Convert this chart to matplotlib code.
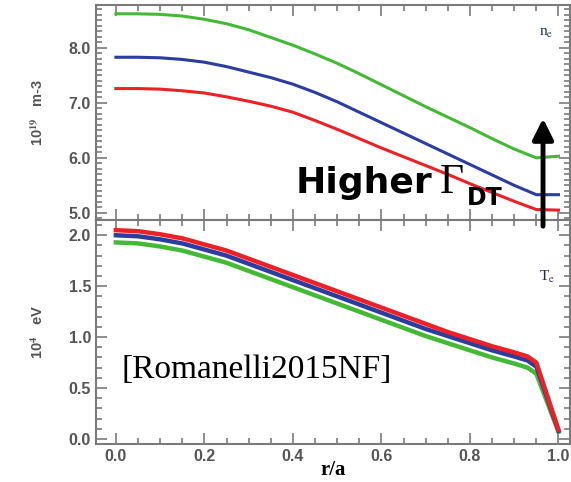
import matplotlib.pyplot as plt
import numpy as np
from matplotlib.ticker import MultipleLocator, FormatStrFormatter
from matplotlib.patches import FancyArrowPatch

plt.rcParams['mathtext.fontset'] = 'stix'

# radial grid for the density profiles
r_ne = [0.0, 0.05, 0.1, 0.15, 0.2, 0.25, 0.3, 0.35, 0.4, 0.45, 0.5,
        0.55, 0.6, 0.65, 0.7, 0.75, 0.8, 0.85, 0.9, 0.95, 1.0]
ne_green = [8.62, 8.62, 8.61, 8.58, 8.52, 8.44, 8.33, 8.19, 8.05, 7.89, 7.72,
            7.53, 7.33, 7.13, 6.93, 6.74, 6.55, 6.35, 6.16, 6.00, 6.03]
ne_blue = [7.83, 7.83, 7.82, 7.79, 7.74, 7.66, 7.56, 7.46, 7.34, 7.19, 7.02,
           6.83, 6.64, 6.45, 6.26, 6.07, 5.88, 5.69, 5.50, 5.33, 5.33]
ne_red = [7.26, 7.26, 7.25, 7.22, 7.18, 7.11, 7.03, 6.94, 6.83, 6.68, 6.52,
          6.35, 6.18, 6.02, 5.86, 5.70, 5.53, 5.37, 5.21, 5.06, 5.05]

# radial grid for the temperature profiles
r_te = [0.0, 0.05, 0.1, 0.15, 0.2, 0.25, 0.3, 0.35, 0.4, 0.45, 0.5,
        0.55, 0.6, 0.65, 0.7, 0.75, 0.8, 0.85, 0.9, 0.93, 0.95, 1.0]
te_red = [2.05, 2.04, 2.01, 1.97, 1.91, 1.85, 1.77, 1.69, 1.61, 1.53, 1.45,
          1.37, 1.29, 1.21, 1.13, 1.05, 0.98, 0.91, 0.85, 0.81, 0.75, 0.09]
te_blue = [2.00, 1.99, 1.96, 1.92, 1.86, 1.80, 1.72, 1.64, 1.56, 1.48, 1.40,
           1.32, 1.24, 1.16, 1.08, 1.01, 0.94, 0.87, 0.81, 0.77, 0.71, 0.08]
te_green = [1.93, 1.92, 1.89, 1.85, 1.79, 1.73, 1.65, 1.57, 1.49, 1.41, 1.33,
            1.25, 1.17, 1.09, 1.01, 0.94, 0.87, 0.80, 0.74, 0.70, 0.64, 0.07]

green = '#44b935'
blue = '#2b3d9e'
red = '#ec2127'
axis_grey = '#7a7a7a'
label_grey = '#555555'
tick_font = 'Liberation Sans'

fig = plt.figure(figsize=(5.71, 4.82), dpi=100)
ax1 = fig.add_axes([0.168, 0.5436, 0.831, 0.4460])
ax2 = fig.add_axes([0.168, 0.0788, 0.831, 0.4648])

ax1.plot(r_ne, ne_green, color=green, lw=2.2, solid_joinstyle='round')
ax1.plot(r_ne, ne_blue, color=blue, lw=2.2, solid_joinstyle='round')
ax1.plot(r_ne, ne_red, color=red, lw=2.2, solid_joinstyle='round')
ax1.set_ylim(4.87, 8.78)
ax1.yaxis.set_major_locator(MultipleLocator(1.0))
ax1.yaxis.set_minor_locator(MultipleLocator(0.1))
ax1.set_ylabel(r'10$^{\mathbf{19}}$   m-3', fontsize=10.5, fontweight='bold',
               family=tick_font, color=label_grey, labelpad=16)

ax2.plot(r_te, te_green, color=green, lw=3.2, solid_joinstyle='round')
ax2.plot(r_te, te_blue, color=blue, lw=3.2, solid_joinstyle='round')
ax2.plot(r_te, te_red, color=red, lw=3.2, solid_joinstyle='round')
ax2.set_ylim(-0.05, 2.15)
ax2.yaxis.set_major_locator(MultipleLocator(0.5))
ax2.yaxis.set_minor_locator(MultipleLocator(0.1))
ax2.set_ylabel(r'10$^{\mathbf{4}}$   eV', fontsize=10.5, fontweight='bold',
               family=tick_font, color=label_grey, labelpad=16)
ax2.set_xlabel('r/a', fontsize=15, fontweight='bold',
               family='Liberation Serif', labelpad=-3)

for ax in (ax1, ax2):
    ax.set_xlim(-0.045, 1.027)
    ax.xaxis.set_major_locator(MultipleLocator(0.2))
    ax.xaxis.set_minor_locator(MultipleLocator(0.05))
    ax.xaxis.set_major_formatter(FormatStrFormatter('%.1f'))
    ax.yaxis.set_major_formatter(FormatStrFormatter('%.1f'))
    ax.tick_params(which='both', direction='in', top=True, right=True,
                   color=axis_grey, width=1.2)
    ax.tick_params(which='major', length=8, labelsize=11.5,
                   labelcolor=label_grey)
    ax.tick_params(which='minor', length=4)
    for s in ax.spines.values():
        s.set_color(axis_grey)
        s.set_linewidth(1.5)
ax1.tick_params(labelbottom=False)

fig.canvas.draw()
for ax in (ax1, ax2):
    for lab in ax.get_xticklabels() + ax.get_yticklabels():
        lab.set_fontweight('bold')
        lab.set_family(tick_font)

ax1.text(0.957, 8.22, r'n$_\mathrm{e}$', fontsize=11, family='Liberation Serif',
         color='#1c2a55')
ax2.text(0.957, 1.55, r'T$_\mathrm{e}$', fontsize=11, family='Liberation Serif',
         color='#1c2a55')
ax2.text(0.013, 0.60, '[Romanelli2015NF]', fontsize=24,
         family='Liberation Serif', color='black')

# annotation: label and arrow spanning the panel boundary
fig.text(0.518, 0.600, 'Higher', fontsize=26, fontweight='bold',
         family='DejaVu Sans', color='black')
fig.text(0.770, 0.600, '\u0393', fontsize=30, family='Liberation Serif',
         color='black')
fig.text(0.818, 0.574, 'DT', fontsize=17, fontweight='bold',
         family='DejaVu Sans', color='black')
fig.patches.append(FancyArrowPatch(
    (0.951, 0.525), (0.951, 0.760), transform=fig.transFigure,
    arrowstyle='-|>,head_length=0.9,head_width=0.45', lw=3.5,
    color='black', mutation_scale=14))

fig.savefig('out.png', dpi=100)
